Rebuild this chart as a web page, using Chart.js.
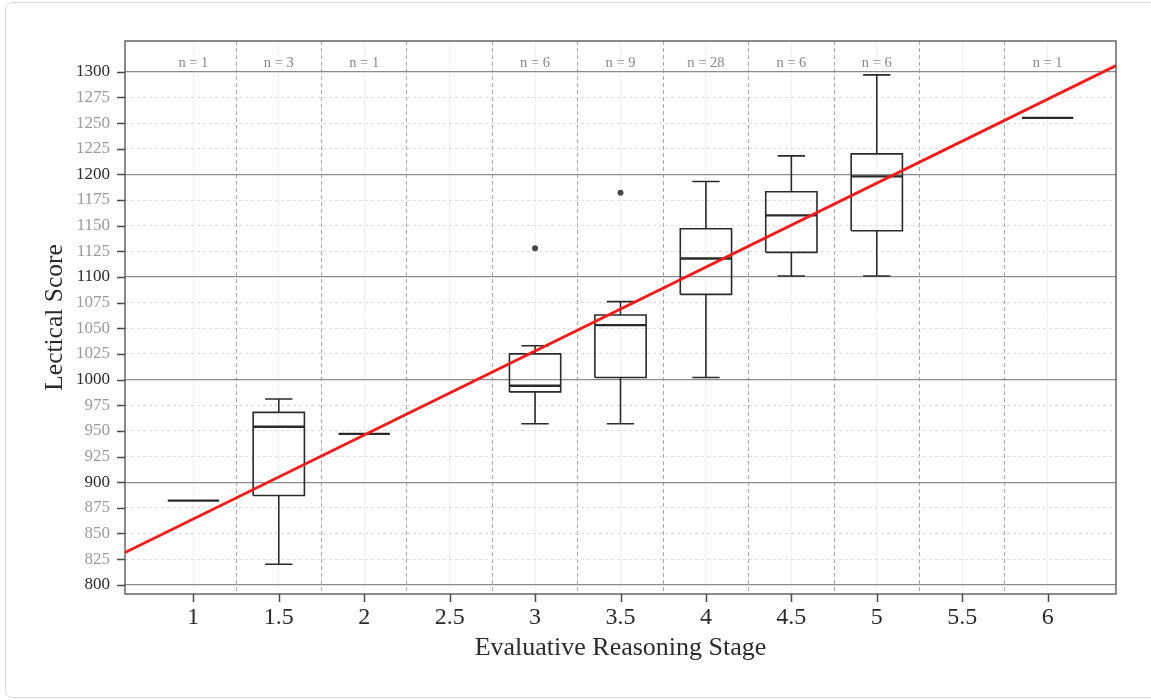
<!DOCTYPE html>
<html>
<head>
<meta charset="utf-8">
<script src="https://cdn.jsdelivr.net/npm/chart.js@4/dist/chart.umd.min.js"></script>
<style>
  body { margin: 0; background: #fff; }
  .card { position: absolute; left: 5px; top: 2px; width: 1160px; height: 694px; border: 1px solid #dcdcdc; border-radius: 7px; }
  #wrap { position: absolute; left: 0; top: 0; width: 1151px; height: 700px; }
</style>
</head>
<body>
<div class="card"></div>
<div id="wrap"><canvas id="myChart" width="1151" height="700"></canvas></div>
<script>
window.addEventListener("DOMContentLoaded", () => {

  // stage groups and their five-number summaries
  const stages = [1, 1.5, 2, 3, 3.5, 4, 4.5, 5, 6];
  const counts = [1, 3, 1, 6, 9, 28, 6, 6, 1];
  const lowWhisker = [882, 820, 947, 957, 957, 1002, 1101, 1101, 1255];
  const lowerQuart = [882, 887, 947, 988, 1002, 1083, 1124, 1145, 1255];
  const medians = [882, 954, 947, 994, 1053, 1118, 1160, 1198, 1255];
  const upperQuart = [882, 968, 947, 1025, 1063, 1147, 1183, 1220, 1255];
  const highWhisker = [882, 981, 947, 1033, 1076, 1193, 1218, 1297, 1255];

  const outlierStages = [3, 3.5];
  const outlierScores = [1128, 1182];

  // regression line end points
  const fitStages = [0.6, 6.4];
  const fitScores = [831.5, 1306];

  const xTicks = [1, 1.5, 2, 2.5, 3, 3.5, 4, 4.5, 5, 5.5, 6];
  const xDividers = [1.25, 1.75, 2.25, 2.75, 3.25, 3.75, 4.25, 4.75, 5.25, 5.75];
  const yTicks = [800, 825, 850, 875, 900, 925, 950, 975, 1000, 1025, 1050, 1075, 1100,
                  1125, 1150, 1175, 1200, 1225, 1250, 1275, 1300];

  const SERIF = "'Liberation Serif', 'DejaVu Serif', serif";
  const INK = "#2b2b2b";
  const BOX_HALF = 0.15;
  const CAP_HALF = 0.08;
  const TICK_LEN = 8;
  const GAP = (x) => ({ x: x, y: null });

  // each group becomes one broken polyline: box, whiskers, caps
  function boxPoints(i) {
    const x = stages[i];
    const l = x - BOX_HALF, r = x + BOX_HALF;
    return [
      { x: l, y: lowerQuart[i] }, { x: r, y: lowerQuart[i] }, { x: r, y: upperQuart[i] },
      { x: l, y: upperQuart[i] }, { x: l, y: lowerQuart[i] }, GAP(x),
      { x: x, y: upperQuart[i] }, { x: x, y: highWhisker[i] }, GAP(x),
      { x: x - CAP_HALF, y: highWhisker[i] }, { x: x + CAP_HALF, y: highWhisker[i] }, GAP(x),
      { x: x, y: lowerQuart[i] }, { x: x, y: lowWhisker[i] }, GAP(x),
      { x: x - CAP_HALF, y: lowWhisker[i] }, { x: x + CAP_HALF, y: lowWhisker[i] }
    ];
  }

  function medianPoints(i) {
    const x = stages[i];
    return [{ x: x - BOX_HALF, y: medians[i] }, { x: x + BOX_HALF, y: medians[i] }];
  }

  const datasets = [{
    label: "fit",
    data: fitStages.map((x, i) => ({ x: x, y: fitScores[i] })),
    showLine: true,
    borderColor: "#f51a1a",
    borderWidth: 2.8,
    pointRadius: 0,
    order: 0
  }, {
    label: "outliers",
    data: outlierStages.map((x, i) => ({ x: x, y: outlierScores[i] })),
    pointRadius: 3,
    backgroundColor: "#474747",
    borderWidth: 0,
    order: 1
  }];

  stages.forEach((s, i) => {
    if (counts[i] > 1) {
      datasets.push({
        label: "box " + s,
        data: boxPoints(i),
        showLine: true,
        spanGaps: false,
        borderColor: INK,
        borderWidth: 1.6,
        pointRadius: 0,
        order: 2
      });
    }
    datasets.push({
      label: "median " + s,
      data: medianPoints(i),
      showLine: true,
      borderColor: INK,
      borderWidth: 2.3,
      pointRadius: 0,
      order: 2
    });
  });

  const isDivider = (v) => xDividers.some(d => Math.abs(d - v) < 1e-6);

  // plot frame plus the short tick marks outside it
  const plotFrame = {
    id: "plotFrame",
    beforeDatasetsDraw(chart) {
      const { ctx, chartArea: a } = chart;
      ctx.save();
      ctx.strokeStyle = "#5a5a5a";
      ctx.lineWidth = 1.4;
      ctx.strokeRect(a.left, a.top, a.right - a.left, a.bottom - a.top);
      ctx.restore();
    },
    afterDraw(chart) {
      const { ctx, chartArea: a, scales } = chart;
      ctx.save();
      ctx.strokeStyle = "#4a4a4a";
      ctx.lineWidth = 1.5;
      ctx.beginPath();
      xTicks.forEach(v => {
        const px = Math.round(scales.x.getPixelForValue(v)) + 0.5;
        ctx.moveTo(px, a.bottom);
        ctx.lineTo(px, a.bottom + TICK_LEN);
      });
      yTicks.forEach(v => {
        const py = Math.round(scales.y.getPixelForValue(v)) + 0.5;
        ctx.moveTo(a.left - TICK_LEN, py);
        ctx.lineTo(a.left, py);
      });
      ctx.stroke();
      ctx.restore();
    }
  };

  const countLabels = {
    id: "countLabels",
    afterDatasetsDraw(chart) {
      const { ctx, chartArea: a, scales } = chart;
      ctx.save();
      ctx.font = "14.5px " + SERIF;
      ctx.fillStyle = "#878787";
      ctx.textAlign = "center";
      ctx.textBaseline = "middle";
      stages.forEach((s, i) => {
        ctx.fillText("n = " + counts[i], scales.x.getPixelForValue(s), a.top + 22);
      });
      ctx.restore();
    }
  };

  new Chart("myChart", {
    type: "scatter",
    data: { datasets: datasets },
    plugins: [plotFrame, countLabels],
    options: {
      responsive: false,
      animation: false,
      layout: { padding: { left: 40, right: 35, top: 41, bottom: 0 } },
      plugins: { legend: { display: false }, tooltip: { enabled: false } },
      scales: {
        x: {
          type: "linear",
          min: 0.6,
          max: 6.4,
          afterBuildTicks: (axis) => {
            axis.ticks = xTicks.concat(xDividers).sort((a, b) => a - b).map(v => ({ value: v }));
          },
          afterFit: (axis) => { axis.height = 106; },
          border: {
            display: false,
            dash: (ctx) => isDivider(ctx.tick.value) ? [4, 3] : []
          },
          grid: {
            color: (ctx) => isDivider(ctx.tick.value) ? "#a8a8a8" : "#f0f0f0",
            lineWidth: 1,
            drawTicks: false
          },
          ticks: {
            autoSkip: false,
            maxRotation: 0,
            padding: 9,
            color: INK,
            font: { family: SERIF, size: 24 },
            callback: (v) => isDivider(v) ? "" : String(v)
          },
          title: {
            display: true,
            text: "Evaluative Reasoning Stage",
            color: INK,
            font: { family: SERIF, size: 26 },
            padding: { top: 0, bottom: 36 }
          }
        },
        y: {
          min: 791,
          max: 1330,
          afterBuildTicks: (axis) => {
            axis.ticks = yTicks.map(v => ({ value: v }));
          },
          afterFit: (axis) => { axis.width = 85; },
          border: {
            display: false,
            dash: (ctx) => ctx.tick.value % 100 === 0 ? [] : [3, 3]
          },
          grid: {
            color: (ctx) => ctx.tick.value % 100 === 0 ? "#8c8c8c" : "#dedede",
            lineWidth: (ctx) => ctx.tick.value % 100 === 0 ? 1.3 : 1,
            drawTicks: false
          },
          ticks: {
            autoSkip: false,
            padding: 15,
            color: (ctx) => ctx.tick.value % 100 === 0 ? INK : "#9a9a9a",
            font: { family: SERIF, size: 17 },
            callback: (v) => String(v)
          },
          title: {
            display: true,
            text: "Lectical Score",
            color: INK,
            font: { family: SERIF, size: 25.5 },
            padding: { top: 0, bottom: 0 }
          }
        }
      }
    }
  });
});
</script>
</body>
</html>
